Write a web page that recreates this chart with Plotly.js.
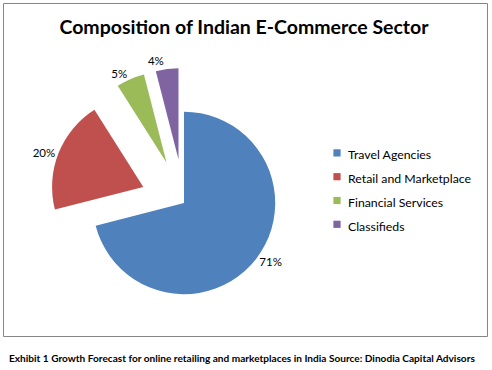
<!DOCTYPE html>
<html>
<head>
<meta charset="utf-8">
<script src="https://cdn.plot.ly/plotly-3.0.1.min.js"></script>
<style>
html,body{margin:0;padding:0;background:#fff;}
#chart{width:492px;height:370px;}
#chart path.textline{display:none;}
#chart path.legendpie{transform:translate(29px,0px) scale(0.6);}
</style>
</head>
<body>
<div id="chart"></div>
<script>
const categories = ["Travel Agencies", "Retail and Marketplace", "Financial Services", "Classifieds"];
const shares = [71, 20, 5, 4];
const sliceColors = ["#4F81BD", "#C0504D", "#9BBB59", "#8064A2"];
const pulls = [0, 0.48, 0.48, 0.48];

const W = 492, H = 370;
const px = x => x / W;
const py = y => 1 - y / H;
const FONT = "Lato, 'Open Sans', sans-serif";

const trace = {
  type: "pie",
  labels: categories.map(c => '<span style="font-size:12.3px">' + c + '</span>'),
  values: shares,
  sort: false,
  direction: "clockwise",
  rotation: 0,
  pull: pulls,
  marker: {colors: sliceColors, line: {width: 0}},
  textinfo: "percent",
  textposition: "outside",
  outsidetextfont: {family: FONT, size: 11.5, color: "#000"},
  hoverinfo: "none",
  domain: {x: [px(184 - 135), px(184 + 135)], y: [py(203 + 135), py(203 - 135)]}
};

const layout = {
  width: W, height: H,
  margin: {l: 0, r: 0, t: 0, b: 0},
  paper_bgcolor: "#fff",
  font: {family: FONT, color: "#000"},
  title: {
    text: "<b>Composition of Indian E-Commerce Sector</b>",
    font: {family: FONT, size: 19.5, color: "#000"},
    x: px(244), xref: "paper", xanchor: "center",
    y: py(27), yref: "paper", yanchor: "middle"
  },
  showlegend: true,
  legend: {
    x: px(308), y: py(136), xanchor: "left", yanchor: "top",
    font: {family: FONT, size: 16, color: "#000"},
    bgcolor: "rgba(0,0,0,0)"
  },
  shapes: [{
    type: "rect", xref: "paper", yref: "paper",
    x0: px(3.5), x1: px(487.5), y0: py(336.5), y1: py(3.5),
    line: {color: "#868686", width: 1}, fillcolor: "rgba(0,0,0,0)"
  }],
  annotations: [{
    text: "<b>Exhibit 1 Growth Forecast for online retailing and marketplaces in India Source: Dinodia Capital Advisors</b>",
    xref: "paper", yref: "paper", x: px(7), y: py(358),
    xanchor: "left", yanchor: "middle", showarrow: false,
    font: {family: FONT, size: 10.1, color: "#000"}
  }]
};

Plotly.newPlot("chart", [trace], layout, {displayModeBar: false, staticPlot: true});
</script>
</body>
</html>
